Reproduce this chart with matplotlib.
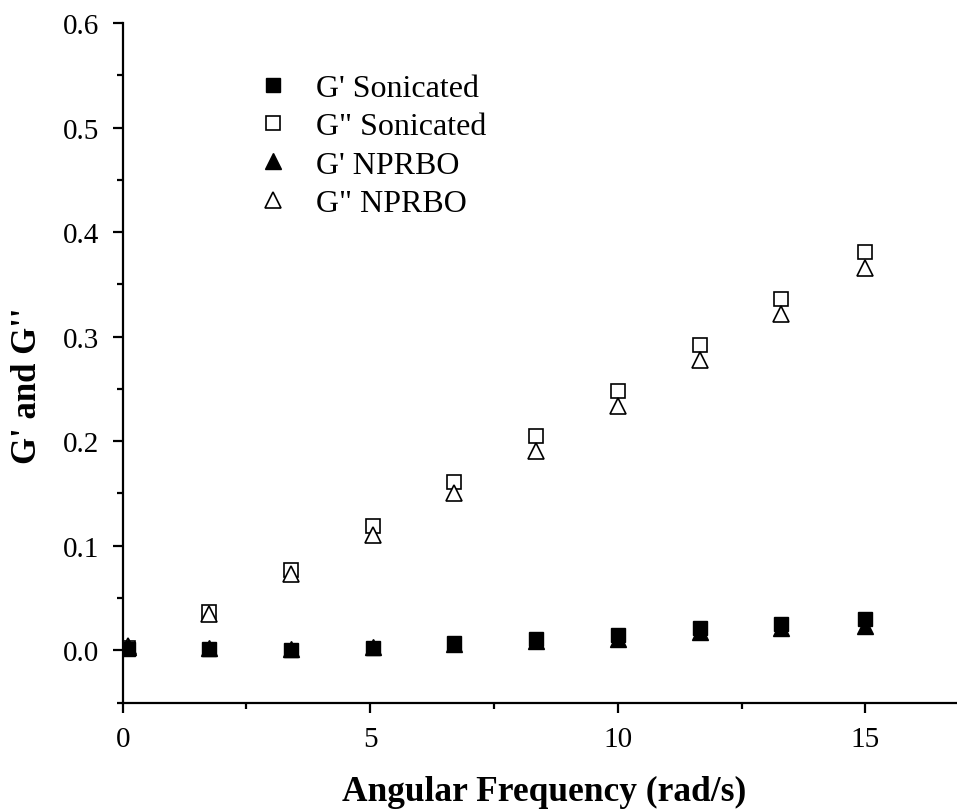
import matplotlib
matplotlib.use('Agg')
import matplotlib.pyplot as plt
from matplotlib.ticker import MultipleLocator

plt.rcParams['font.family'] = ['Liberation Serif', 'DejaVu Serif']

# data
freq = [0.1, 1.75, 3.4, 5.05, 6.7, 8.35, 10.0, 11.65, 13.3, 15.0]
g1_son = [0.001, 0.001, 0.0, 0.002, 0.007, 0.011, 0.015, 0.021, 0.025, 0.030]
g2_son = [0.002, 0.037, 0.077, 0.119, 0.161, 0.205, 0.248, 0.292, 0.336, 0.381]
g1_np = [0.003, 0.002, 0.001, 0.003, 0.006, 0.009, 0.011, 0.017, 0.021, 0.023]
g2_np = [0.004, 0.035, 0.073, 0.110, 0.150, 0.191, 0.234, 0.278, 0.322, 0.366]

fig = plt.figure(figsize=(9.57, 8.12), dpi=100)
ax = fig.add_axes([0.1282, 0.1336, 0.8718, 0.8368])

ax.plot(freq, g1_son, 's', color='black', ms=10, mec='black', label="G' Sonicated", zorder=3)
ax.plot(freq, g2_son, 's', mfc='white', mec='black', ms=10, mew=1.2, label='G" Sonicated', zorder=2)
ax.plot(freq, g1_np, '^', color='black', ms=12, label="G' NPRBO", zorder=3)
ax.plot(freq, g2_np, '^', mfc='white', mec='black', ms=12, mew=1.2, label='G" NPRBO', zorder=2)

ax.set_xlim(0, 16.85)
ax.set_ylim(-0.05, 0.6)
ax.xaxis.set_major_locator(MultipleLocator(5))
ax.xaxis.set_minor_locator(MultipleLocator(2.5))
ax.yaxis.set_major_locator(MultipleLocator(0.1))
ax.yaxis.set_minor_locator(MultipleLocator(0.05))
ax.xaxis.set_major_formatter(plt.FuncFormatter(lambda v, p: '%d' % v))
ax.yaxis.set_major_formatter(plt.FuncFormatter(lambda v, p: '%.1f' % v))

for s in ['top', 'right']:
    ax.spines[s].set_visible(False)
for s in ['left', 'bottom']:
    ax.spines[s].set_linewidth(1.6)
ax.tick_params(which='major', direction='out', length=7, width=1.6, labelsize=21, pad=10)
ax.tick_params(which='minor', direction='out', length=4, width=1.6)

ax.set_xlabel('Angular Frequency (rad/s)', fontsize=25.5, fontweight='bold')
ax.set_ylabel("G' and G''", fontsize=25, fontweight='bold')
ax.xaxis.set_label_coords(0.5056, -0.1065)
ax.yaxis.set_label_coords(-0.094, 0.468)

ax.legend(loc='upper left', bbox_to_anchor=(0.127, 0.968), frameon=False, fontsize=23,
          markerscale=1.0, handletextpad=0.85, labelspacing=0.28, handlelength=1.0)

fig.savefig('out.png', dpi=100)
